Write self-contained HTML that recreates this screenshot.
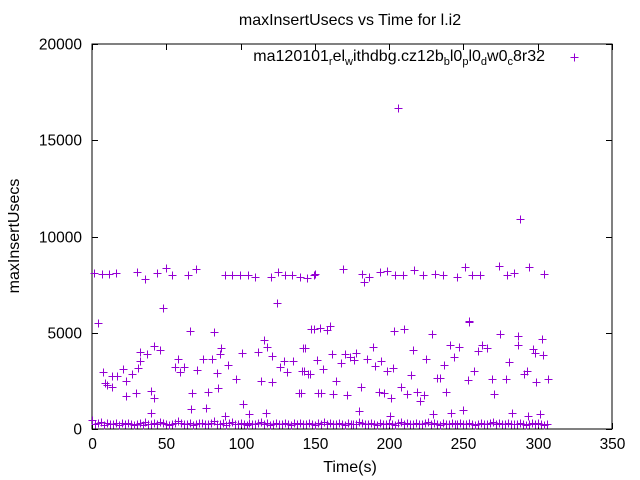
<!DOCTYPE html>
<html><head><meta charset="utf-8"><style>
body{margin:0;background:#fff;}
svg{display:block;font-family:"Liberation Sans",sans-serif;}
</style></head><body>
<svg id="chart" width="640" height="480" viewBox="0 0 640 480">
<rect width="640" height="480" fill="#fff"/>
<text x="350" y="25" text-anchor="middle" font-size="16">maxInsertUsecs vs Time for l.i2</text>
<text transform="translate(19,236) rotate(-90)" text-anchor="middle" font-size="16">maxInsertUsecs</text>
<text x="350" y="472" text-anchor="middle" font-size="16">Time(s)</text>
<g id="axes"></g>
<g id="points"></g>
<g>
<text x="545" y="61" text-anchor="end" font-size="16">ma120101<tspan font-size="11" dy="4">r</tspan><tspan dy="-4">el</tspan><tspan font-size="11" dy="4">w</tspan><tspan dy="-4">ithdbg.cz12b</tspan><tspan font-size="11" dy="4">b</tspan><tspan dy="-4">l0</tspan><tspan font-size="11" dy="4">p</tspan><tspan dy="-4">l0</tspan><tspan font-size="11" dy="4">d</tspan><tspan dy="-4">w0</tspan><tspan font-size="11" dy="4">c</tspan><tspan dy="-4">8r32</tspan></text>
<path d="M570.5 57.5h8M574.5 53.5v8" stroke="#9400d3" stroke-width="1"/>
</g>
</svg>
<script>
const xTicks=[0,50,100,150,200,250,300,350];
const yTicks=[0,5000,10000,15000,20000];
const bandT=[1.5,6.5,11.5,16,30,36,44,50,54,64.5,70,89.5,94,99.5,105,110,120.5,125,130,134.5,140,145,149.5,150,169,182,183,186.5,194,198.5,204,209,217,223,231,236,246,251,256,261,274,279,284,294,304];
const bandV=[8120,8050,8050,8100,8150,7800,8100,8350,8000,8000,8300,8000,8000,8000,8000,7900,7900,8150,8000,8000,7900,7850,8000,8050,8300,8050,7650,7900,8150,8200,8000,8000,8250,8000,8050,8000,7900,8400,8000,8000,8450,8000,8100,8400,8050];
const midT=[3.8,7.6,8.5,10.4,13.5,13.5,17,21,23,23,27,29.5,31,32.5,32.5,37,39.5,39.5,41.5,41.5,45.5,48,58,56,59,62,66,67.5,66.5,70.5,74.5,77,78,80.5,82,84,84.5,86,86.5,89.5,91.5,97,101,101.5,106,111.5,113.5,115.5,117,117.5,121,121,124.5,126.5,129,131,135,139,141.5,142,145.5,147.5,143.5,142.5,147,141,149.5,151.5,152,154,153.5,155.5,158,160,161.5,162,164,167.5,170,171.5,173.5,176.5,178,180,181,185,189,190.5,193,194.5,196.5,198.5,201,202.5,200.5,203,206,208,210,212,214.5,216,218.5,221,223.5,225,229,229.5,232,234.5,237,238.5,241,241.5,243.5,247,249.5,253,253.5,254,257,260,262.5,266,269,270.5,274.5,278.5,281,282.5,286.5,287,288,291,292.5,293.5,296.5,298,299,301.5,303,303.5,307];
const midV=[5520,2960,2410,2290,2200,2750,2750,3115,1715,2500,2840,1850,3150,3530,3980,3880,1975,815,1590,4310,4100,6300,3640,3200,2980,3200,5110,1850,1040,3070,3640,1070,1900,3640,5060,2890,2150,3880,4190,675,3320,2600,3930,1300,760,3980,2500,4620,815,4280,3790,2430,6530,3240,3530,2940,3530,1850,2990,4190,2840,5200,4190,2990,2840,1850,5190,3590,1850,1850,5240,3120,5150,5350,3900,1800,2500,3410,3900,1760,3730,3590,3940,930,2200,3640,4240,3270,1900,3530,1850,2990,1630,3150,675,5090,16700,2200,5190,1800,2800,4100,1900,1450,1760,3640,4930,760,2640,2640,3320,1900,4380,815,3730,4240,990,2560,5550,5600,2990,4050,4380,4220,2600,1800,4930,2600,3460,815,4840,4380,10900,2840,2990,675,4130,3960,2430,760,4650,3850,2600];
const baseT=[0,2,4,6,8,10,12,14,16,18,20,22,24,26,28,30,32,34,36,38,40,42,44,46,48,50,52,54,56,58,60,62,64,66,68,70,72,74,76,78,80,82,84,86,88,90,92,94,96,98,100,102,104,106,108,110,112,114,116,118,120,122,124,126,128,130,132,134,136,138,140,142,144,146,148,150,152,154,156,158,160,162,164,166,168,170,172,174,176,178,180,182,184,186,188,190,192,194,196,198,200,202,204,206,208,210,212,214,216,218,220,222,224,226,228,230,232,234,236,238,240,242,244,246,248,250,252,254,256,258,260,262,264,266,268,270,272,274,276,278,280,282,284,286,288,290,292,294,296,298,300,302,304,306];
const baseV=[450,250,300,350,200,300,250,280,300,220,300,260,320,280,200,250,300,200,350,280,260,300,240,350,300,280,200,250,300,400,300,260,250,300,220,280,300,330,260,250,300,400,280,250,300,200,300,350,280,260,300,250,200,300,280,260,300,350,250,300,200,280,300,260,250,300,280,220,300,250,300,280,260,300,250,200,300,280,350,250,300,260,280,300,250,200,300,260,280,250,350,300,250,280,300,260,220,300,280,250,300,260,200,300,350,280,300,250,260,300,280,250,300,350,260,300,280,220,300,250,280,300,260,250,300,280,260,300,250,220,280,300,260,250,300,350,260,300,280,250,300,260,280,250,300,280,200,260,300,250,300,260,220,280];
const X0=92,X1=612,Y0=429,Y1=44;
const sx=v=>X0+(v-0)/350*(X1-X0);
const sy=v=>Y0-(v-0)/20000*(Y0-Y1);
const NS="http://www.w3.org/2000/svg";
const axes=document.getElementById('axes');
function mk(tag,attrs,parent){const e=document.createElementNS(NS,tag);for(const k in attrs)e.setAttribute(k,attrs[k]);parent.appendChild(e);return e;}
let d=`M${X0} ${Y1}H${X1}V${Y0}H${X0}Z`;
const frame=mk('path',{d:d,fill:'none',stroke:'#000','stroke-width':1},axes);


xTicks.forEach(t=>{const x=Math.round(sx(t))+0.5;
 const p=mk('path',{d:`M${x} ${Y0}v-6M${x} ${Y1}v6`,stroke:'#000'},axes);
 
 
 const tx=mk('text',{x:x,y:Y0+20,'text-anchor':'middle','font-size':15.5},axes);tx.textContent=t;
 
 
});
yTicks.forEach(t=>{const y=Math.round(sy(t))+0.5;
 const p=mk('path',{d:`M${X0} ${y}h6M${X1} ${y}h-6`,stroke:'#000'},axes);
 
 
 const tx=mk('text',{x:X0-10,y:y+5,'text-anchor':'end','font-size':15.5},axes);tx.textContent=t;
 
 
});
const pts=document.getElementById('points');
function plot(T,V){T.forEach((t,i)=>{const x=Math.round(sx(t))+0.5,y=Math.round(sy(V[i]))+0.5;
 const p=mk('path',{d:`M${x-4} ${y}h8M${x} ${y-4}v8`,stroke:'#9400d3','stroke-width':1,fill:'none'},pts);
 
 
});}
plot(bandT,bandV);plot(midT,midV);plot(baseT,baseV);
</script>
</body></html>
